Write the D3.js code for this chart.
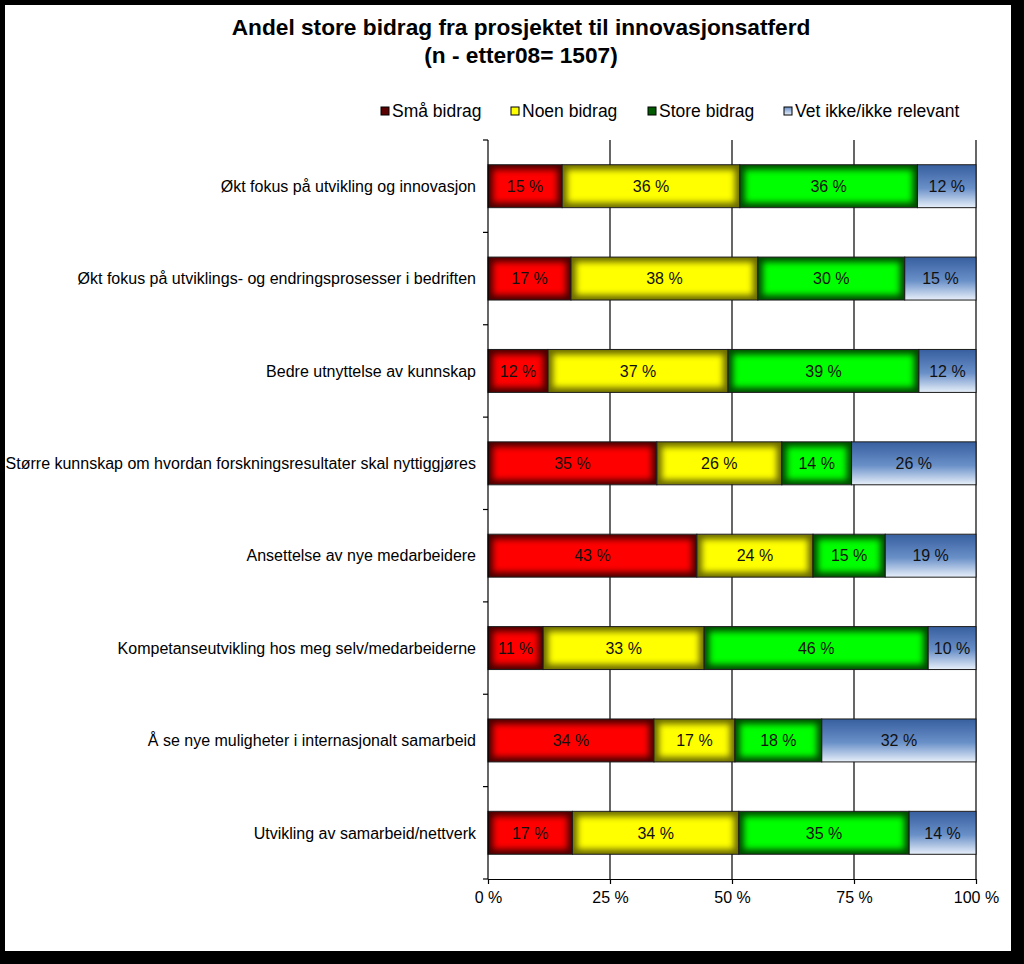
<!DOCTYPE html>
<html><head><meta charset="utf-8">
<script src="https://cdn.jsdelivr.net/npm/d3@7"></script>
<style>html,body{margin:0;padding:0;background:#000;}svg{display:block;font-family:"Liberation Sans",Arial,sans-serif;}</style>
</head><body>
<svg id="chart" width="1024" height="964"></svg>
<script>
const categories = [
  "Økt fokus på utvikling og innovasjon",
  "Økt fokus på utviklings- og endringsprosesser i bedriften",
  "Bedre utnyttelse av kunnskap",
  "Større kunnskap om hvordan forskningsresultater skal nyttiggjøres",
  "Ansettelse av nye medarbeidere",
  "Kompetanseutvikling hos meg selv/medarbeiderne",
  "Å se nye muligheter i internasjonalt samarbeid",
  "Utvikling av samarbeid/nettverk"
];
const seriesNames = ["Små bidrag", "Noen bidrag", "Store bidrag", "Vet ikke/ikke relevant"];
const smaBidrag   = [15.2, 17.0, 12.3, 34.6, 42.8, 11.3, 34.0, 17.3];
const noenBidrag  = [36.4, 38.3, 36.9, 25.6, 23.8, 33.0, 16.6, 34.1];
const storeBidrag = [36.4, 30.1, 39.1, 14.3, 14.8, 45.9, 17.8, 34.9];
const vetIkke     = [12.0, 14.6, 11.7, 25.5, 18.6,  9.8, 31.6, 13.7];
const xTicks = [0, 25, 50, 75, 100];
const titleLines = ["Andel store bidrag fra prosjektet til innovasjonsatferd", "(n - etter08= 1507)"];

const seriesValues = [smaBidrag, noenBidrag, storeBidrag, vetIkke];
const centerColors = ["#ff0000", "#ffff00", "#00ff00", null];
const edgeColors = ["#4a0000", "#6a6a00", "#004a00", null];
const legendColors = ["#5a0000", "#ffff00", "#005a00", "url(#blueLegend)"];

const svg = d3.select("#chart");
svg.append("rect").attr("width", 1024).attr("height", 964).attr("fill", "#000");
svg.append("rect").attr("x", 5).attr("y", 5).attr("width", 1006).attr("height", 946).attr("fill", "#fff");

const defs = svg.append("defs");
const bg = defs.append("linearGradient").attr("id", "blueGrad").attr("x1", 0).attr("y1", 0).attr("x2", 0).attr("y2", 1);
bg.append("stop").attr("offset", "0%").attr("stop-color", "#375f9f");
bg.append("stop").attr("offset", "55%").attr("stop-color", "#6a90c8");
bg.append("stop").attr("offset", "100%").attr("stop-color", "#e8f0fa");
const bl = defs.append("linearGradient").attr("id", "blueLegend").attr("x1", 0).attr("y1", 0).attr("x2", 0).attr("y2", 1);
bl.append("stop").attr("offset", "0%").attr("stop-color", "#6a90c8");
bl.append("stop").attr("offset", "100%").attr("stop-color", "#e8f0fa");
const blur = defs.append("filter").attr("id", "glow").attr("x", "-50%").attr("y", "-50%").attr("width", "200%").attr("height", "200%");
blur.append("feGaussianBlur").attr("stdDeviation", 3);

// Title
svg.append("g").selectAll("text").data(titleLines).join("text")
  .attr("x", 521).attr("y", (d, i) => 35 + i * 28)
  .attr("text-anchor", "middle").attr("font-weight", "bold").attr("font-size", 22.7)
  .text(d => d);

// Scales
const x = d3.scaleLinear().domain([0, 100]).range([488, 976]);
const y = d3.scaleBand().domain(categories).range([140, 879]).paddingInner(0.535).paddingOuter(0.2675);
const yTop = y.range()[0], yBot = y.range()[1];

// Gridlines
svg.append("g").selectAll("line").data(xTicks.filter(d => d > 0)).join("line")
  .attr("x1", d => x(d)).attr("x2", d => x(d)).attr("y1", yTop).attr("y2", yBot)
  .attr("stroke", "#000").attr("stroke-width", 1.2);

// Stack data
const rows = categories.map((c, i) => {
  const o = { cat: c };
  seriesNames.forEach((s, j) => o[s] = seriesValues[j][i]);
  return o;
});
const stacked = d3.stack().keys(seriesNames)(rows);

const barsG = svg.append("g");
stacked.forEach((layer, si) => {
  layer.forEach(seg => {
    const x0 = x(seg[0]), x1 = x(seg[1]);
    const yy = y(seg.data.cat), h = y.bandwidth(), w = x1 - x0;
    const cell = barsG.append("svg").attr("x", x0).attr("y", yy).attr("width", w).attr("height", h).attr("overflow", "hidden");
    if (centerColors[si]) {
      cell.append("rect").attr("width", w).attr("height", h).attr("fill", edgeColors[si]);
      cell.append("rect").attr("x", 5).attr("y", 5).attr("width", Math.max(0, w - 10)).attr("height", h - 10)
        .attr("fill", centerColors[si]).attr("filter", "url(#glow)");
    } else {
      cell.append("rect").attr("width", w).attr("height", h).attr("fill", "url(#blueGrad)");
    }
    barsG.append("rect").attr("x", x0).attr("y", yy).attr("width", w).attr("height", h)
      .attr("fill", "none").attr("stroke", "#1a1a1a").attr("stroke-width", 1);
    barsG.append("text").attr("x", (x0 + x1) / 2).attr("y", yy + h / 2)
      .attr("dy", "0.36em").attr("text-anchor", "middle").attr("font-size", 16)
      .attr("fill", "#111").text(Math.round(seg[1] - seg[0]) + " %");
  });
});

// Y axis line and boundary ticks
const axG = svg.append("g").attr("stroke", "#000").attr("stroke-width", 1.2);
axG.append("line").attr("x1", 488).attr("x2", 488).attr("y1", yTop).attr("y2", yBot);
const bounds = categories.map(c => y(c) + y.bandwidth() / 2 - y.step() / 2).concat([yBot]);
axG.selectAll("line.bt").data(bounds).join("line").attr("class", "bt")
  .attr("x1", 483).attr("x2", 488).attr("y1", d => d).attr("y2", d => d);

// Category labels
svg.append("g").selectAll("text").data(categories).join("text")
  .attr("x", 476).attr("y", d => y(d) + y.bandwidth() / 2).attr("dy", "0.36em")
  .attr("text-anchor", "end").attr("font-size", 16).text(d => d);

// X axis
const xAxis = d3.axisBottom(x).tickValues(xTicks).tickFormat(d => d + " %").tickSize(5).tickSizeOuter(0).tickPadding(8);
const xg = svg.append("g").attr("transform", `translate(0,${yBot})`).call(xAxis);
xg.select(".domain").attr("stroke", "#000").attr("stroke-width", 1.2);
xg.selectAll(".tick line").attr("stroke", "#000").attr("stroke-width", 1.2);
xg.selectAll(".tick text").attr("font-size", 16).attr("font-family", "Liberation Sans, Arial, sans-serif").attr("fill", "#000");

// Legend
const legendX = [381, 511, 648, 784];
const lg = svg.append("g").selectAll("g").data(seriesNames).join("g")
  .attr("transform", (d, i) => `translate(${legendX[i]},111)`);
lg.append("rect").attr("x", 0).attr("y", -4).attr("width", 8).attr("height", 8)
  .attr("fill", (d, i) => legendColors[i]).attr("stroke", "#000").attr("stroke-width", 1);
lg.append("text").attr("x", 11).attr("dy", "0.36em").attr("font-size", 17.5).text(d => d);
</script>
</body></html>
